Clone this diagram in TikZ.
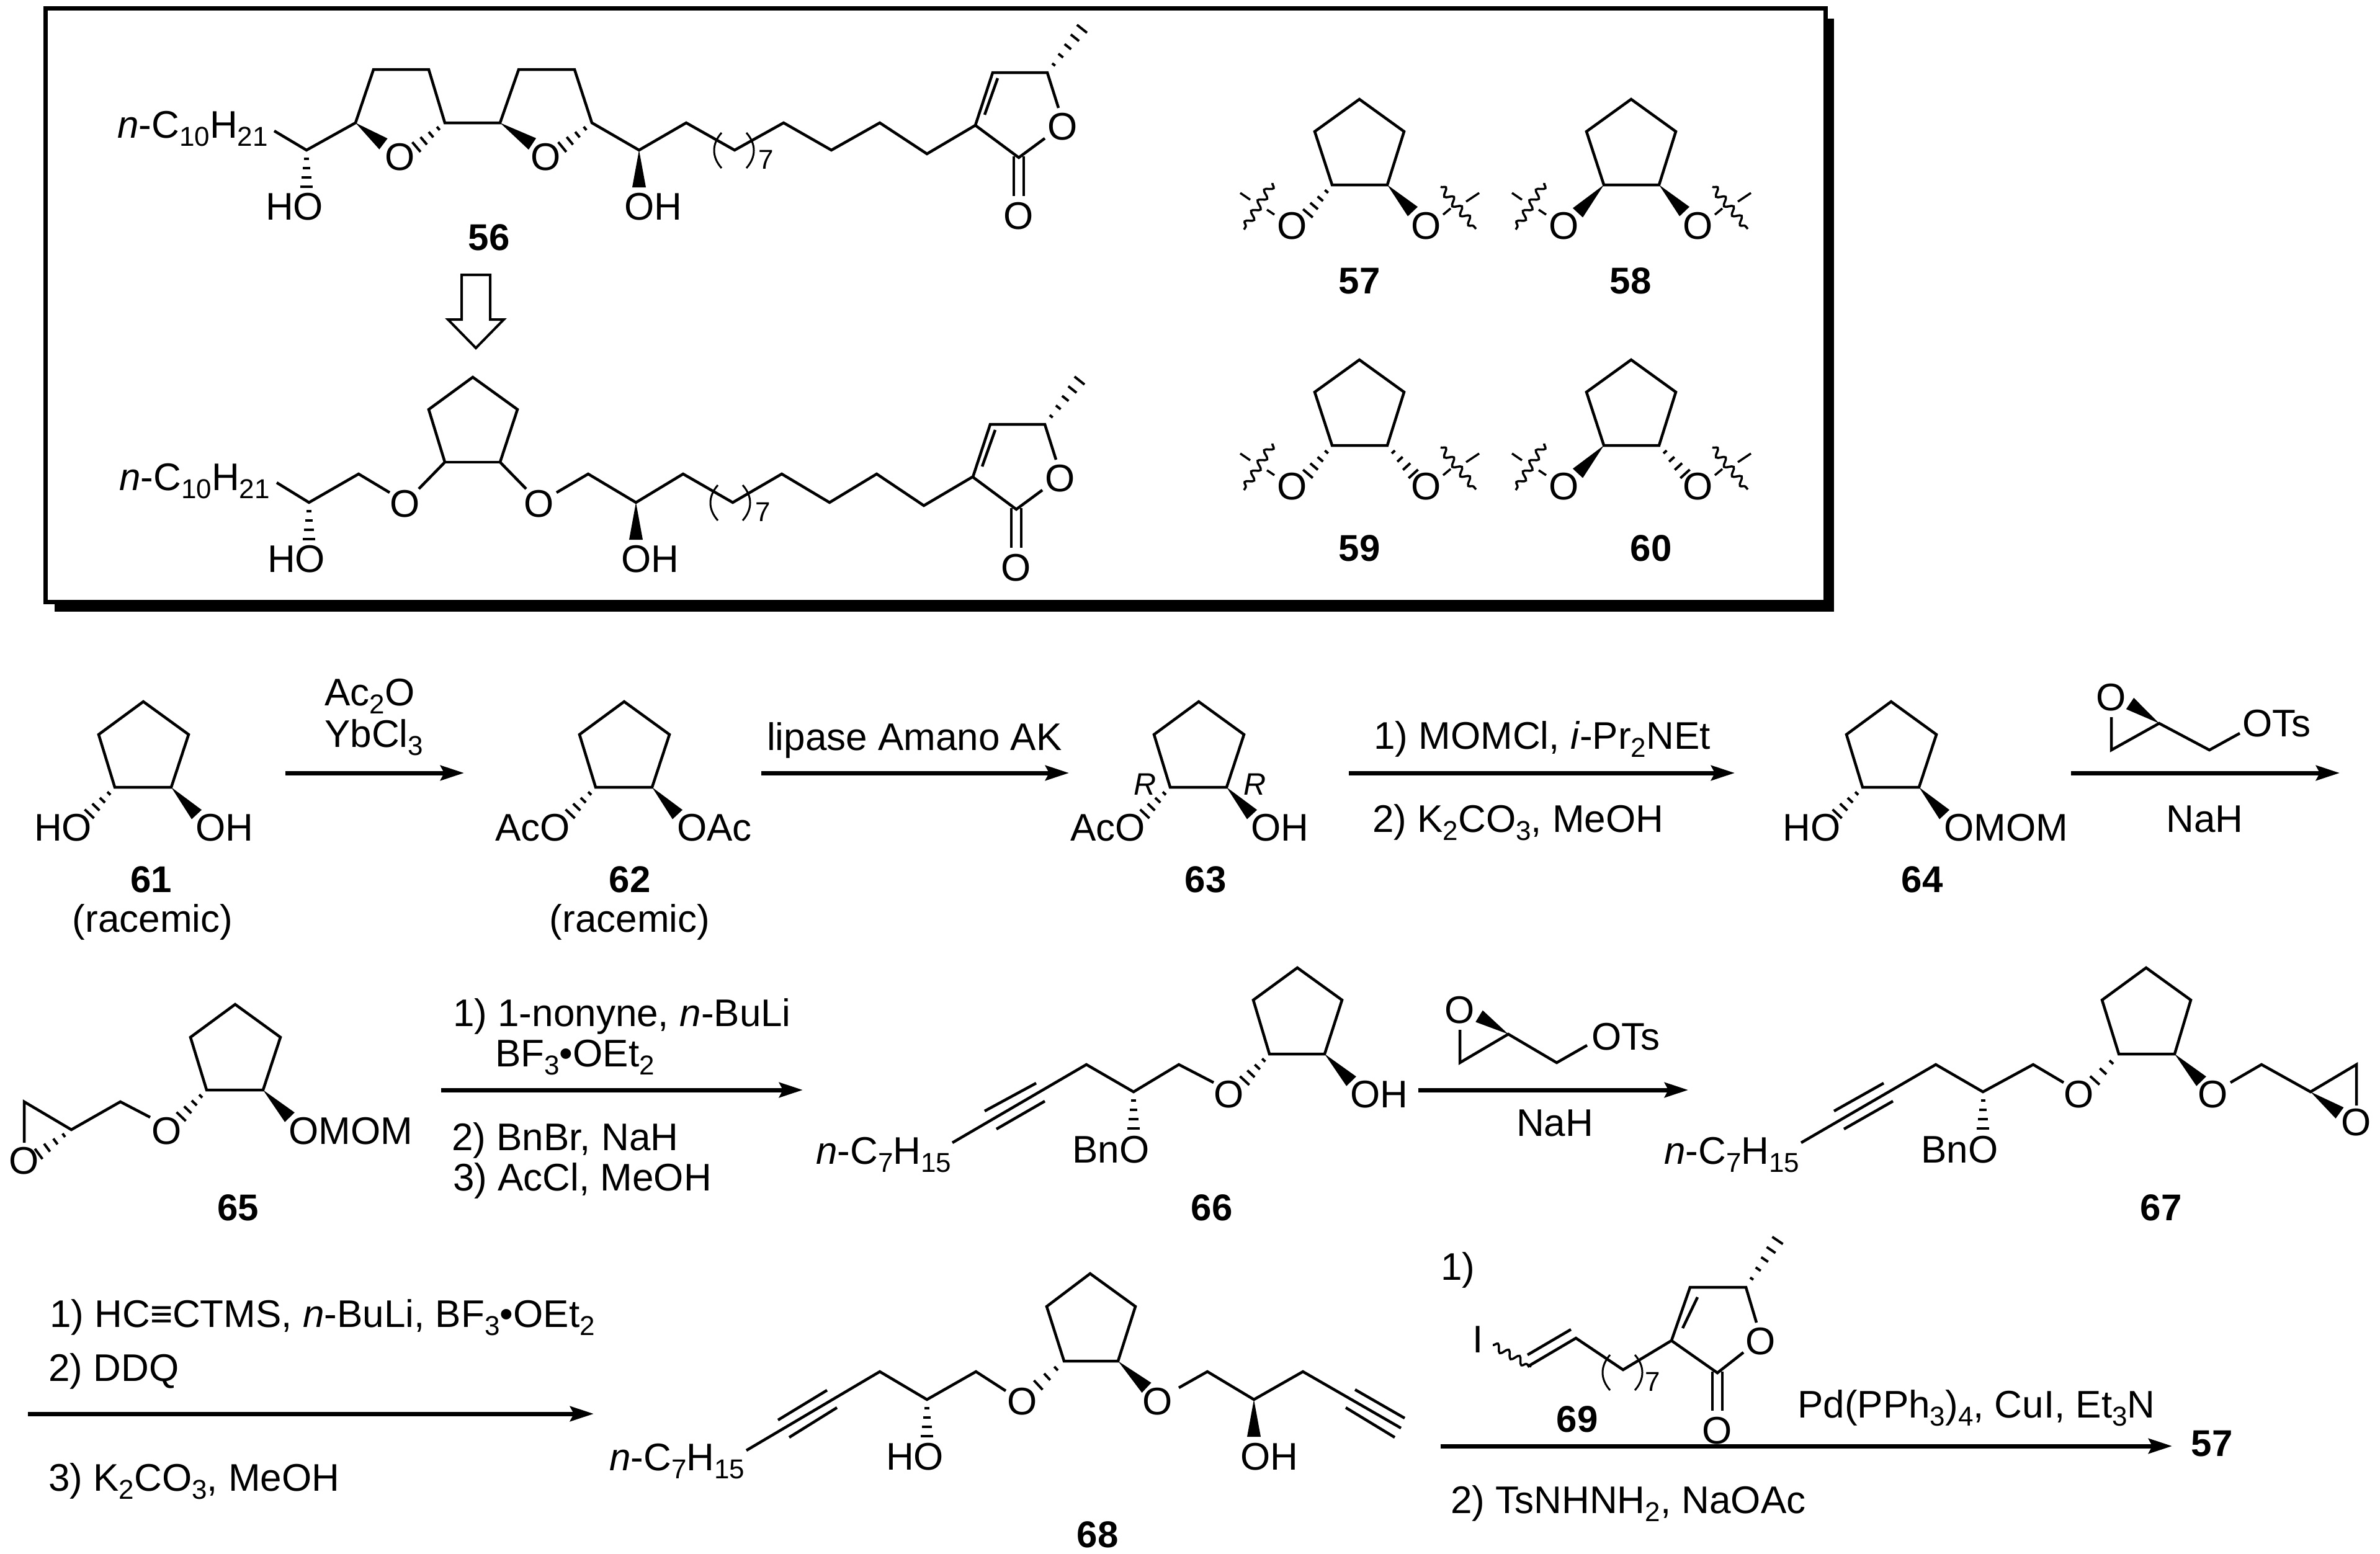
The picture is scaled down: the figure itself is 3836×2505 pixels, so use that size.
\documentclass[tikz,border=0pt]{standalone}
\usepackage{fontspec}
\setmainfont{Liberation Sans}
\usetikzlibrary{arrows.meta,decorations.pathmorphing}
\newcommand\mainsz{\fontsize{62}{74}\selectfont}
\newcommand\sbs[1]{\raisebox{-13pt}{\fontsize{44}{52}\selectfont #1}}
\tikzset{
 bond/.style={line width=4.5pt,line join=miter},
 hashline/.style={line width=4pt},
 wedgefill/.style={fill=black},
 wavy/.style={line width=3.5pt,decorate,decoration={snake,amplitude=6pt,segment length=20pt}},
 paren/.style={line width=3pt},
 txt/.style={inner sep=0pt,anchor=base west,font=\mainsz},
 atom/.style={inner sep=0pt,font=\mainsz},
 lbl/.style={inner sep=0pt,font=\fontsize{60}{72}\selectfont\bfseries},
 rxn/.style={line width=7pt,-{Stealth[length=38pt,width=24pt,inset=6pt]}},
 smallnum/.style={inner sep=0pt,anchor=base west,font=\fontsize{44}{52}\selectfont},
}
\newcommand\hashb[4]{%
 \pgfmathsetmacro\hdx{#3-#1}\pgfmathsetmacro\hdy{#4-#2}%
 \pgfmathsetmacro\hL{veclen(\hdx,\hdy)}%
 \pgfmathtruncatemacro\hN{max(3,round(\hL/17))}%
 \foreach \hI in {1,...,\hN}{%
  \pgfmathsetmacro\hT{(\hI-0.1)/\hN}\pgfmathsetmacro\hW{1.5+9*\hT}%
  \pgfmathsetmacro\hxa{#1+\hT*\hdx-\hdy/\hL*\hW}\pgfmathsetmacro\hya{#2+\hT*\hdy+\hdx/\hL*\hW}%
  \pgfmathsetmacro\hxb{#1+\hT*\hdx+\hdy/\hL*\hW}\pgfmathsetmacro\hyb{#2+\hT*\hdy-\hdx/\hL*\hW}%
  \draw[hashline] (\hxa,\hya) -- (\hxb,\hyb);
 }}
\newcommand\wdg[4]{%
 \pgfmathsetmacro\hdx{#3-#1}\pgfmathsetmacro\hdy{#4-#2}%
 \pgfmathsetmacro\hL{veclen(\hdx,\hdy)}%
 \pgfmathsetmacro\hxa{#3-\hdy/\hL*11}\pgfmathsetmacro\hya{#4+\hdx/\hL*11}%
 \pgfmathsetmacro\hxb{#3+\hdy/\hL*11}\pgfmathsetmacro\hyb{#4-\hdx/\hL*11}%
 \fill[wedgefill] (#1,#2) -- (\hxa,\hya) -- (\hxb,\hyb) -- cycle;}
\newcommand\chainparens[2]{%
 \draw[paren] ({#1-20},#2) .. controls ({#1-36},{#2+18}) and ({#1-36},{#2+39}) .. ({#1-20},{#2+57});
 \draw[paren] ({#1+20},#2) .. controls ({#1+36},{#2+18}) and ({#1+36},{#2+39}) .. ({#1+20},{#2+57});}
\newcommand\lactone[3]{%
 \begin{scope}[shift={(#2,#3)}]
 \draw[bond] (1706,174) -- (1688,117) -- (1600,117) -- (1572,202) -- (1642,254) -- (1684,223);
 \draw[bond] (1587,185) -- (1608,126);
 \draw[bond] (1634,252) -- (1634,316);
 \draw[bond] (1650,252) -- (1650,316);
 \node[atom] (#1ringO) at (1713,204) {O};
 \node[atom] (#1carbO) at (1642,348) {O};
 \hashb{1688}{117}{1745}{45}
 \end{scope}}
\newcommand\stLwedge{\wdg{2147}{298}{2105}{343}}
\newcommand\stRwedge{\wdg{2236}{298}{2277}{341}}
\newcommand\stLhash{\hashb{2147}{298}{2107}{345}}
\newcommand\stRhash{\hashb{2236}{298}{2279}{345}}
\newcommand\stereounit[5]{%
 \begin{scope}[shift={(#2,#3)}]
 \draw[bond] (2147,298) -- (2119,212) -- (2191,160) -- (2263,212) -- (2236,298) -- cycle;
 \node[atom] (#1L) at (2083,364) {O};
 \node[atom] (#1R) at (2299,364) {O};
 #4 #5
 \draw[bond,line width=3.5pt] (2054,346) -- (2042,338);
 \draw[bond,line width=3.5pt] (2015,322) -- (1999,311);
 \draw[bond,line width=3.5pt] (2326,346) -- (2338,336);
 \draw[bond,line width=3.5pt] (2363,325) -- (2384,311);
 \draw[wavy] (2051,295) -- (2005,370);
 \draw[wavy] (2322,301) -- (2379,369);
 \end{scope}}
\newcommand\diolring[2]{%
 \begin{scope}[shift={(#1,#2)}]
 \draw[bond] (185,1269) -- (159,1184) -- (231,1131) -- (304,1184) -- (276,1269) -- cycle;
 \wdg{276}{1269}{317}{1313}
 \hashb{185}{1269}{143}{1313}
 \end{scope}}
\begin{document}
\begin{tikzpicture}[x=1pt,y=-1pt]
\useasboundingbox (0,0) rectangle (3836,2505);
\fill[white] (0,0) rectangle (3836,2505);
% framed box with shadow
\fill[black] (88,30) rectangle (2956,986);
\draw[line width=7pt,fill=white] (73,14) rectangle (2942,970);

% ---------- 56
\node[txt] (a1) at (189,222) {\textit{n}-C\sbs{10}H\sbs{21}};
\draw[bond] (442,211) -- (494,242) -- (573,198) -- (602,112) -- (691,112) -- (717,198) -- (806,198) -- (836,112) -- (926,112) -- (954,198) -- (1030,242) -- (1106,198) -- (1184,242) -- (1263,198) -- (1340,242) -- (1418,198) -- (1494,248) -- (1572,202);
\wdg{573}{198}{618}{232}
\wdg{806}{198}{858}{232}
\hashb{717}{198}{670}{238}
\hashb{954}{198}{905}{238}
\node[atom] (a2) at (645,253) {O};
\node[atom] (a3) at (880,253) {O};
\hashb{494}{242}{494}{302}
\node[txt] (a4) at (428,354) {HO};
\wdg{1030}{242}{1030}{302}
\node[txt] (a5) at (1006,354) {OH};
\chainparens{1183}{214}
\node[smallnum] (a6) at (1222,272) {7};
\lactone{a}{0}{0}
\node[lbl] (l56) at (788,383) {56};
% retro arrow
\draw[line width=4pt,fill=white,line join=miter] (744,443) -- (790,443) -- (790,515) -- (812,515) -- (767,561) -- (722,515) -- (744,515) -- cycle;

% ---------- lower molecule
\node[txt] (b1) at (192,790) {\textit{n}-C\sbs{10}H\sbs{21}};
\draw[bond] (446,778) -- (498,810) -- (578,764) -- (628,794);
\draw[bond] (675,788) -- (717,745) -- (691,660) -- (762,608) -- (834,660) -- (806,745) -- (848,788);
\draw[bond] (717,745) -- (806,745);
\draw[bond] (897,794) -- (948,764) -- (1025,810) -- (1101,764) -- (1181,810) -- (1260,764) -- (1337,810) -- (1413,764) -- (1489,815) -- (1567,769);
\node[atom] (b2) at (653,812) {O};
\node[atom] (b3) at (869,812) {O};
\hashb{498}{810}{498}{870}
\node[txt] (b4) at (431,922) {HO};
\wdg{1025}{810}{1025}{870}
\node[txt] (b5) at (1001,922) {OH};
\chainparens{1177}{782}
\node[smallnum] (b6) at (1217,840) {7};
\lactone{b}{-4}{567}

% ---------- 57-60
\stereounit{s57}{0}{0}{\stLhash}{\stRwedge}
\stereounit{s58}{438}{0}{\stLwedge}{\stRwedge}
\stereounit{s59}{0}{420}{\stLhash}{\stRhash}
\stereounit{s60}{438}{420}{\stLwedge}{\stRhash}
\node[lbl] (l57) at (2191,453) {57};
\node[lbl] (l58) at (2628,453) {58};
\node[lbl] (l59) at (2191,884) {59};
\node[lbl] (l60) at (2661,884) {60};

% ---------- row 1
\diolring{0}{0}
\node[txt] (c1) at (55,1355) {HO};
\node[txt] (c2) at (315,1355) {OH};
\node[lbl] (l61) at (244,1418) {61};
\node[atom] (r61) at (246,1486) {(racemic)};
\coordinate (r1s) at (460,1246); \coordinate (r1e) at (748,1246);
\draw[rxn] (r1s) -- (r1e);
\node[txt] (t1a) at (523,1137) {Ac\sbs{2}O};
\node[txt] (t1b) at (523,1204) {YbCl\sbs{3}};
\diolring{775}{0}
\node[txt] (c3) at (798,1355) {AcO};
\node[txt] (c4) at (1091,1355) {OAc};
\node[lbl] (l62) at (1015,1418) {62};
\node[atom] (r62) at (1015,1486) {(racemic)};
\coordinate (r2s) at (1227,1246); \coordinate (r2e) at (1723,1246);
\draw[rxn] (r2s) -- (r2e);
\node[txt] (t2) at (1236,1209) {lipase Amano AK};
\diolring{1701}{0}
\node[txt] (c5) at (1725,1355) {AcO};
\node[txt] (c6) at (2016,1355) {OH};
\node[inner sep=0pt,anchor=base,font=\fontsize{50}{58}\selectfont\itshape] (c7) at (1846,1281) {R};
\node[inner sep=0pt,anchor=base,font=\fontsize{50}{58}\selectfont\itshape] (c8) at (2023,1281) {R};
\node[lbl] (l63) at (1943,1418) {63};
\coordinate (r3s) at (2174,1246); \coordinate (r3e) at (2796,1246);
\draw[rxn] (r3s) -- (r3e);
\node[txt] (t3a) at (2214,1207) {1) MOMCl, \textit{i}-Pr\sbs{2}NEt};
\node[txt] (t3b) at (2212,1341) {2) K\sbs{2}CO\sbs{3}, MeOH};
\diolring{2817}{0}
\node[txt] (c9) at (2873,1355) {HO};
\node[txt] (c10) at (3133,1355) {OMOM};
\node[lbl] (l64) at (3098,1418) {64};
\coordinate (r4s) at (3338,1246); \coordinate (r4e) at (3771,1246);
\draw[rxn] (r4s) -- (r4e);
\node[atom] (e1) at (3403,1124) {O};
\draw[bond] (3403,1156) -- (3403,1209) -- (3480,1166) -- (3561,1209) -- (3610,1182);
\wdg{3480}{1166}{3433}{1134}
\node[txt] (e2) at (3614,1187) {OTs};
\node[txt] (t4) at (3491,1341) {NaH};

% ---------- row 2
\draw[bond] (333,1757) -- (307,1672) -- (379,1619) -- (452,1672) -- (424,1757) -- cycle;
\wdg{424}{1757}{467}{1801}
\hashb{333}{1757}{291}{1801}
\node[atom] (d1) at (269,1823) {O};
\draw[bond] (242,1801) -- (194,1776) -- (115,1821) -- (39,1776) -- (39,1842);
\hashb{115}{1821}{61}{1861}
\node[atom] (d2) at (39,1871) {O};
\node[txt] (d3) at (465,1844) {OMOM};
\node[lbl] (l65) at (384,1947) {65};
\coordinate (r5s) at (711,1757); \coordinate (r5e) at (1294,1757);
\draw[rxn] (r5s) -- (r5e);
\node[txt] (t5a) at (730,1654) {1) 1-nonyne, \textit{n}-BuLi};
\node[txt] (t5b) at (798,1719) {BF\sbs{3}•OEt\sbs{2}};
\node[txt] (t5c) at (728,1854) {2) BnBr, NaH};
\node[txt] (t5d) at (730,1919) {3) AcCl, MeOH};

% 66
\node[txt] (f1) at (1315,1876) {\textit{n}-C\sbs{7}H\sbs{15}};
\draw[bond] (1535,1842) -- (1751,1716) -- (1827,1760) -- (1900,1716) -- (1956,1745);
\draw[bond] (1587,1791) -- (1670,1746);
\draw[bond] (1606,1820) -- (1684,1775);
\hashb{1827}{1760}{1827}{1820}
\node[txt] (f2) at (1728,1874) {BnO};
\node[atom] (f3) at (1981,1764) {O};
\draw[bond] (2046,1699) -- (2020,1612) -- (2091,1560) -- (2163,1612) -- (2135,1699) -- cycle;
\hashb{2046}{1699}{2005}{1743}
\wdg{2135}{1699}{2178}{1743}
\node[txt] (f4) at (2176,1785) {OH};
\node[lbl] (l66) at (1953,1947) {66};
\coordinate (r6s) at (2286,1757); \coordinate (r6e) at (2721,1757);
\draw[rxn] (r6s) -- (r6e);
\node[atom] (g1) at (2353,1628) {O};
\draw[bond] (2353,1660) -- (2353,1713) -- (2431,1667) -- (2509,1713) -- (2558,1685);
\wdg{2431}{1667}{2384}{1638}
\node[txt] (g2) at (2565,1692) {OTs};
\node[txt] (t6) at (2444,1831) {NaH};

% 67
\node[txt] (h1) at (2682,1876) {\textit{n}-C\sbs{7}H\sbs{15}};
\draw[bond] (2903,1842) -- (3120,1716) -- (3196,1760) -- (3277,1716) -- (3326,1745);
\draw[bond] (2956,1791) -- (3036,1746);
\draw[bond] (2972,1820) -- (3051,1775);
\hashb{3196}{1760}{3196}{1820}
\node[txt] (h2) at (3096,1874) {BnO};
\node[atom] (h3) at (3351,1764) {O};
\draw[bond] (3415,1699) -- (3388,1612) -- (3459,1560) -- (3531,1612) -- (3505,1699) -- cycle;
\hashb{3415}{1699}{3375}{1743}
\wdg{3505}{1699}{3548}{1743}
\node[atom] (h4) at (3567,1764) {O};
\draw[bond] (3595,1745) -- (3645,1716) -- (3724,1760) -- (3798,1716) -- (3798,1782);
\wdg{3724}{1760}{3771}{1794}
\node[atom] (h5) at (3798,1809) {O};
\node[lbl] (l67) at (3483,1947) {67};

% ---------- row 3
\node[txt] (t7a) at (80,2139) {1) HC≡CTMS, \textit{n}-BuLi, BF\sbs{3}•OEt\sbs{2}};
\node[txt] (t7b) at (78,2226) {2) DDQ};
\coordinate (r7s) at (45,2279); \coordinate (r7e) at (957,2279);
\draw[rxn] (r7s) -- (r7e);
\node[txt] (t7c) at (78,2403) {3) K\sbs{2}CO\sbs{3}, MeOH};

% 68
\node[txt] (m1) at (982,2370) {\textit{n}-C\sbs{7}H\sbs{15}};
\draw[bond] (1203,2338) -- (1418,2211) -- (1494,2256) -- (1573,2211) -- (1621,2242);
\draw[bond] (1254,2289) -- (1333,2241);
\draw[bond] (1272,2317) -- (1349,2269);
\hashb{1494}{2256}{1494}{2316}
\node[txt] (m2) at (1428,2369) {HO};
\node[atom] (m3) at (1648,2259) {O};
\draw[bond] (1715,2194) -- (1687,2106) -- (1757,2053) -- (1830,2106) -- (1802,2194) -- cycle;
\hashb{1715}{2194}{1672}{2234}
\wdg{1802}{2194}{1848}{2237}
\node[atom] (m4) at (1866,2259) {O};
\draw[bond] (1900,2237) -- (1946,2211) -- (2021,2256) -- (2100,2211) -- (2258,2302);
\draw[bond] (2184,2240) -- (2264,2286);
\draw[bond] (2169,2269) -- (2248,2317);
\wdg{2021}{2256}{2021}{2316}
\node[txt] (m5) at (1999,2369) {OH};
\node[lbl] (l68) at (1769,2474) {68};

% arrow 8 with 69
\coordinate (r8s) at (2322,2331);
\node[lbl] (l57b) at (3565,2327) {57};
\coordinate (r8e) at (3501,2331);
\draw[rxn] (r8s) -- (r8e);
\node[txt] (t8a) at (2322,2063) {1)};
\node[txt] (n1) at (2373,2180) {I};
\draw[wavy] (2406,2168) -- (2468,2203);
\draw[bond] (2462,2203) -- (2540,2157) -- (2616,2208) -- (2694,2161) -- (2724,2075) -- (2814,2075) -- (2831,2132);
\draw[bond] (2810,2180) -- (2768,2213) -- (2694,2161);
\draw[bond] (2462,2184) -- (2532,2143);
\draw[bond] (2712,2141) -- (2736,2091);
\draw[bond] (2760,2211) -- (2760,2274);
\draw[bond] (2776,2211) -- (2776,2274);
\node[atom] (n2) at (2838,2162) {O};
\node[atom] (n3) at (2768,2306) {O};
\hashb{2814}{2075}{2866}{1998}
\chainparens{2615}{2184}
\node[smallnum] (n4) at (2651,2242) {7};
\node[lbl] (l69) at (2542,2288) {69};
\node[txt] (t8b) at (2897,2285) {Pd(PPh\sbs{3})\sbs{4}, CuI, Et\sbs{3}N};
\node[txt] (t8c) at (2338,2439) {2) TsNHNH\sbs{2}, NaOAc};
\end{tikzpicture}
\end{document}
